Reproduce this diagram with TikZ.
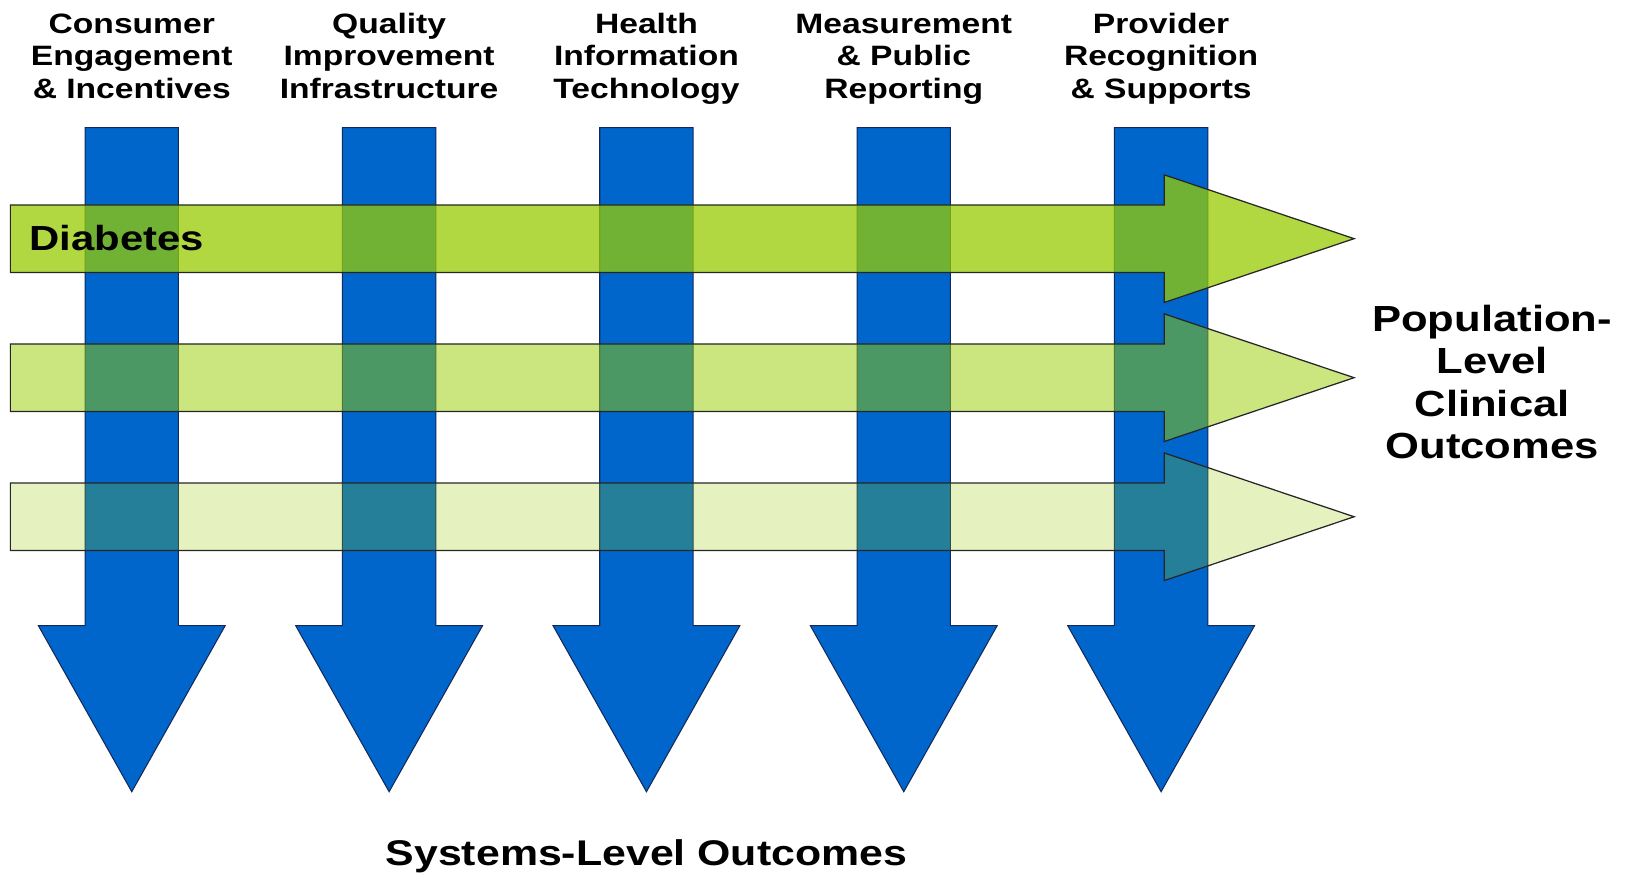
\documentclass[tikz,border=0pt]{standalone}
\usepackage{fontspec}
\usepackage{tikz}
\usetikzlibrary{positioning}
\newfontfamily\chartFont{Liberation Sans}[FakeStretch=1.2]
\tikzstyle{chart} = [x = .5pt, y = -.5pt]
\definecolor{pillarColor}{RGB}{0,102,204}
\definecolor{pillarEdge}{RGB}{20,40,90}
\definecolor{conditionColor}{RGB}{151,203,0}
\tikzstyle{pillarStyle} = [fill=pillarColor, draw=pillarEdge, line width=.5pt]
\tikzstyle{conditionStyle} = [fill=conditionColor, draw=black!85, line width=.6pt, draw opacity=1]
\tikzstyle{pillarText} = [font=\chartFont\bfseries\fontsize{13.5}{15.75}\selectfont, align=center, inner sep=0, anchor=base]
\tikzstyle{outcomeText} = [font=\chartFont\bfseries\fontsize{17.5}{20.5}\selectfont, align=center, inner sep=0]
\newcommand{\shaftHalf}{45}
\newcommand{\headHalf}{90}
\newcommand{\pillarArrow}[1]{\filldraw [pillarStyle] (#1 - \shaftHalf, 123) -- (#1 + \shaftHalf, 123) -- (#1 + \shaftHalf, 603) -- (#1 + \headHalf, 603) -- (#1, 763) -- (#1 - \headHalf, 603) -- (#1 - \shaftHalf, 603) -- cycle;}
\newcommand{\conditionArrow}[2]{\filldraw [conditionStyle, fill opacity=#2] (10, #1 - 32.5) -- (1122, #1 - 32.5) -- (1122, #1 - 61.5) -- (1305, #1) -- (1122, #1 + 61.5) -- (1122, #1 + 32.5) -- (10, #1 + 32.5) -- cycle;}
\begin{document}
\begin{tikzpicture}[chart]
    \useasboundingbox (0,0) rectangle (1568,841);
    \foreach \col in {127,375,623,871,1119} {
      \pillarArrow{\col}
    }
    \foreach \row/\level in {230/.75, 364/.5, 498/.25} {
      \conditionArrow{\row}{\level}
    }
    \foreach \col/\name/\txt in {127/consumer/{Consumer\\Engagement\\\& Incentives},
      375/quality/{Quality\\Improvement\\Infrastructure},
      623/health/{Health\\Information\\Technology},
      871/measure/{Measurement\\\& Public\\Reporting},
      1119/provider/{Provider\\Recognition\\\& Supports}} {
      \node [pillarText] (\name) at (\col, 95) {\txt};
    }
    \node [outcomeText, anchor=west, font=\chartFont\bfseries\fontsize{16.8}{20}\selectfont] (diabetes) at (28, 229) {Diabetes};
    \node [outcomeText] (population) at (1438, 368) {Population-\\Level\\Clinical\\Outcomes};
    \node [outcomeText, font=\chartFont\bfseries\fontsize{17.2}{20}\selectfont] (systems) at (623, 825) {Systems-Level Outcomes};
\end{tikzpicture}
\end{document}
